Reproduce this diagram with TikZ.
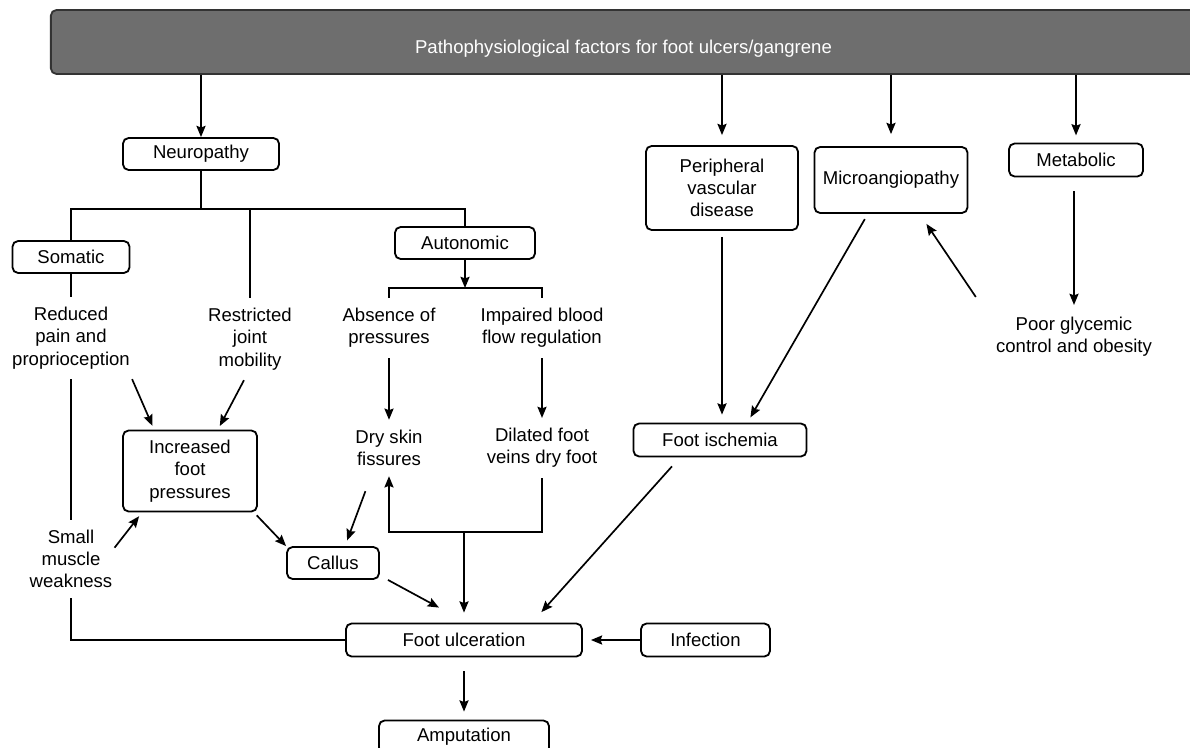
\documentclass[tikz,border=0pt]{standalone}
\usepackage{fontspec}
\setmainfont{Liberation Sans}
\usetikzlibrary{arrows.meta}
\newcommand{\fs}{\fontsize{13.2}{15.8}\selectfont}
\definecolor{bargray}{HTML}{6E6E6E}

\begin{document}
\begin{tikzpicture}[x=0.025cm,y=-0.025cm,
	line/.style={line width=1.2pt,draw=black},
	arr/.style={line,-{Stealth[length=8pt,width=6.5pt,inset=1.2pt]}},
	box/.style={draw,line width=1.3pt,rounded corners=4pt,font=\fs,align=center,inner sep=2pt,minimum height=0.8cm},
	txt/.style={font=\fs,align=center,inner sep=0.25cm}]
	\useasboundingbox (0,0) rectangle (1190,748);
	\clip (0,0) rectangle (1190,748);

	% header
	\node[box,fill=bargray,draw=black!80,text=white,minimum width=28.625cm,minimum height=1.6cm,text height=0.58cm,text depth=0pt] (top) at (623.5,42) {Pathophysiological factors for foot ulcers/gangrene};

	% neuropathy branch
	\node[box,minimum width=3.9cm] (neuro) at (201,154) {Neuropathy};
	\node[box,minimum width=2.925cm] (som) at (71,257) {Somatic};
	\node[box,minimum width=3.5cm] (auto) at (465,243) {Autonomic};
	\node[txt] (red) at (71,338) {Reduced\\pain and\\proprioception};
	\node[txt] (res) at (250,339) {Restricted\\joint\\mobility};
	\node[txt] (abs) at (389,328) {Absence of\\pressures};
	\node[txt] (imp) at (542,328) {Impaired blood\\flow regulation};
	\node[txt] (dry) at (389,448) {Dry skin\\fissures};
	\node[txt] (dil) at (542,448) {Dilated foot\\veins dry foot};
	\node[box,minimum width=3.35cm,minimum height=2.025cm] (inc) at (190,471) {Increased\\foot\\pressures};
	\node[txt] (smw) at (71,559) {Small\\muscle\\weakness};
	\node[box,minimum width=2.3cm] (cal) at (333,563) {Callus};

	% vascular and metabolic
	\node[box,minimum width=3.8cm,minimum height=2.1cm] (pvd) at (722,188) {Peripheral\\vascular\\disease};
	\node[box,minimum width=3.825cm,minimum height=1.65cm] (micro) at (891,180) {Microangiopathy};
	\node[box,minimum width=3.35cm,minimum height=0.825cm] (meta) at (1076,160) {Metabolic};
	\node[txt] (poor) at (1074,337) {Poor glycemic\\control and obesity};
	\node[box,minimum width=4.325cm,minimum height=0.825cm] (isch) at (720,440) {Foot ischemia};

	% outcome
	\node[box,minimum width=5.9cm,minimum height=0.825cm] (ulc) at (464,640) {Foot ulceration};
	\node[box,minimum width=3.225cm,minimum height=0.825cm] (inf) at (705.5,640) {Infection};
	\node[box,minimum width=4.25cm,minimum height=0.825cm] (amp) at (464,737) {Amputation};

	\coordinate (nbar) at (201,209);
	\coordinate (abar) at (465,288);
	\coordinate (fbar) at (464,532);

	% from the header
	\draw[arr] (top.south -| neuro.north) -- (neuro.north);
	\draw[arr,shorten >=0.25cm] (top.south -| pvd.north) -- (pvd.north);
	\draw[arr,shorten >=0.3cm] (top.south -| micro.north) -- (micro.north);
	\draw[arr,shorten >=0.18cm] (top.south -| meta.north) -- (meta.north);

	% neuropathy tree
	\draw[line] (neuro.south) -- (nbar);
	\draw[line] (som.north) |- (nbar) -| (auto.north);
	\draw[line] (res.north) -- (res.north |- nbar);
	\draw[line] (som.south) -- (red.north);
	\draw[line] (red.south) -- (smw.north);
	\draw[line] (smw.south) |- (ulc.west);
	\draw[arr] (auto.south) -- (abar);
	\draw[line] (abs.north) |- (abar) -| (imp.north);
	\draw[arr] (abs) -- (dry);
	\draw[arr] (imp) -- (dil);
	\draw[arr] (dil.south) -- (dil.south |- fbar) -| (dry.south);
	\draw[arr,shorten >=0.25cm] (fbar) -- (ulc.north);

	% diagonals
	\draw[arr,shorten >=0.1cm] ([xshift=-0.2cm]red.south east) -- ([xshift=0.8cm]inc.north west);
	\draw[arr,shorten >=0.1cm] ([xshift=-0.15cm]res.south) -- ([xshift=-1cm]inc.north east);
	\draw[arr,shorten >=0.12cm] ([shift={(-0.2cm,-0.7cm)}]smw.north east) -- ([xshift=0.5cm]inc.south west);
	\draw[arr,shorten <=0.1cm] ([xshift=-0.1cm]inc.south east) -- (cal.north west);
	\draw[arr,shorten <=0.4cm,shorten >=0.15cm] ([xshift=-0.45cm]dry.south) -- ([xshift=0.3cm]cal.north);
	\draw[arr] ([xshift=0.2cm]cal.south east) -- ([shift={(-0.625cm,0.375cm)}]ulc.north);
	\draw[arr,shorten <=0.3cm,shorten >=0.35cm] ([xshift=-1cm]isch.south) -- ([xshift=1.7cm]ulc.north);
	\draw[arr,shorten >=0.2cm] (inf.west) -- (ulc.east);
	\draw[arr,shorten <=0.35cm,shorten >=0.2cm] (ulc.south) -- (amp.north);

	% vascular side
	\draw[arr,shorten <=0.15cm,shorten >=0.2cm] (pvd.south) -- (pvd.south |- isch.north);
	\draw[arr,shorten <=0.15cm,shorten >=0.15cm] ([xshift=-0.58cm]micro.south) -- ([xshift=-1.5cm]isch.north east);
	\draw[arr] ([shift={(-0.25cm,0.25cm)}]poor.north west) -- ([shift={(-1.05cm,-0.25cm)}]micro.south east);
	\draw[arr,shorten <=0.35cm,shorten >=0.05cm] (meta.south -| poor.north) -- (poor.north);
\end{tikzpicture}
\end{document}
